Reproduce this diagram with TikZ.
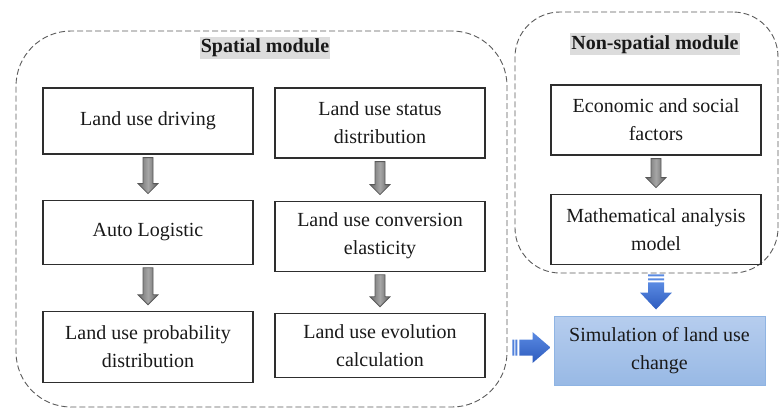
\documentclass[tikz,border=0pt]{standalone}
\usepackage{fontspec}
\setmainfont{Liberation Serif}
\usepackage{tikz}
\usetikzlibrary{calc,positioning}
\definecolor{boxline}{HTML}{2E2E2E}
\definecolor{dashline}{HTML}{5A5A5A}
\definecolor{labelgray}{HTML}{DCDCDC}
\definecolor{simtop}{HTML}{B6CDEE}
\definecolor{simbottom}{HTML}{98B9E5}
\definecolor{simline}{HTML}{8FB4E3}
\definecolor{arrowtop}{HTML}{5A8AE2}
\definecolor{arrowbottom}{HTML}{2D5BBE}

% grey block arrow from the bottom of #1 to the top of #2
\newcommand{\grayflow}[2]{%
  \path[grayarrow] let \p1=(#1.south), \p2=(#2.north) in
    (\x1-5pt,\y1-3pt) -- (\x1+5pt,\y1-3pt) -- (\x1+5pt,\y2+16pt) -- (\x1+10pt,\y2+16pt)
    -- (\x1,\y2+6pt) -- (\x1-10pt,\y2+16pt) -- (\x1-5pt,\y2+16pt) -- cycle;}

\begin{document}
\begin{tikzpicture}[x=1pt, y=-1pt,
    every node/.style={font=\fontsize{20}{28}\selectfont, text=black!90},
    box/.style={draw=boxline, line width=1.2pt, minimum width=210pt, minimum height=70pt, align=center, inner sep=2pt},
    module/.style={draw=dashline, line width=0.9pt, dash pattern=on 6pt off 3pt, inner sep=0pt},
    modlabel/.style={fill=labelgray, font=\fontsize{20}{28}\selectfont\bfseries, inner xsep=1pt, inner ysep=2pt, text height=14pt, text depth=4pt},
    grayarrow/.style={draw=black!65, line width=0.8pt, left color=black!58, right color=black!62, middle color=black!35},
    bluearrow/.style={top color=arrowtop, bottom color=arrowbottom},
    simbox/.style={draw=simline, line width=1pt, top color=simtop, bottom color=simbottom, minimum width=211pt, minimum height=69pt, align=center, inner sep=2pt}]
  \useasboundingbox (0,0) rectangle (781,410);

  % the two modules
  \node[module, rounded corners=55pt, minimum width=491pt, minimum height=376pt] (spatial) at (261.5,219) {};
  \node[module, rounded corners=45pt, minimum width=263pt, minimum height=261pt] (nonspatial) at (646.5,142.5) {};
  \node[modlabel] (spatlabel) at (265,47.5) {Spatial module};
  \node[modlabel] (nonspatlabel) at (655,44) {Non-spatial module};

  % spatial module
  \node[box, minimum height=66pt] (drive) at (148,121) {Land use driving};
  \node[box, minimum height=64pt, below=45pt of drive] (auto) {Auto Logistic};
  \node[box, minimum height=71pt, below=46pt of auto] (prob) {Land use probability\\distribution};
  \node[box] (status) at (380,123) {Land use status\\distribution};
  \node[box, below=42pt of status] (conv) {Land use conversion\\elasticity};
  \node[box, minimum height=64pt, below=41pt of conv] (evol) {Land use evolution\\calculation};

  % non-spatial module
  \node[box] (econ) at (656,120) {Economic and social\\factors};
  \node[box, below=38pt of econ] (math) {Mathematical analysis\\model};

  \node[simbox] (sim) at (659.5,350.5) {Simulation of land use\\change};

  \foreach \a/\b in {drive/auto,auto/prob,status/conv,conv/evol,econ/math}{\grayflow{\a}{\b}}

  % blue arrows into the simulation
  \path[bluearrow] let \p1=(nonspatial.south -| math.south), \p2=(sim.north) in
    (\x1-8pt,\y1-9pt) -- (\x1+8pt,\y1-9pt) -- (\x1+8pt,\y2+23pt) -- (\x1+16pt,\y2+23pt)
    -- (\x1,\y2+6pt) -- (\x1-16pt,\y2+23pt) -- (\x1-8pt,\y2+23pt) -- cycle;
  \fill[arrowtop] let \p1=(nonspatial.south -| math.south) in
    (\x1-8pt,\y1-1pt) rectangle (\x1+8pt,\y1-3pt) (\x1-8pt,\y1-5pt) rectangle (\x1+8pt,\y1-7pt);
  \path[bluearrow] let \p1=(spatial.east |- sim.west), \p2=(sim.west) in
    (\x1+12pt,\y2+11pt) -- (\x2-21pt,\y2+11pt) -- (\x2-21pt,\y2+18.5pt) -- (\x2-3pt,\y2+3pt)
    -- (\x2-21pt,\y2-12.5pt) -- (\x2-21pt,\y2-5pt) -- (\x1+12pt,\y2-5pt) -- cycle;
  \fill[arrowtop!80!arrowbottom] let \p1=(spatial.east |- sim.west), \p2=(sim.west) in
    (\x1+5pt,\y2+11pt) rectangle (\x1+7pt,\y2-5pt) (\x1+8pt,\y2+11pt) rectangle (\x1+10pt,\y2-5pt);
\end{tikzpicture}
\end{document}
